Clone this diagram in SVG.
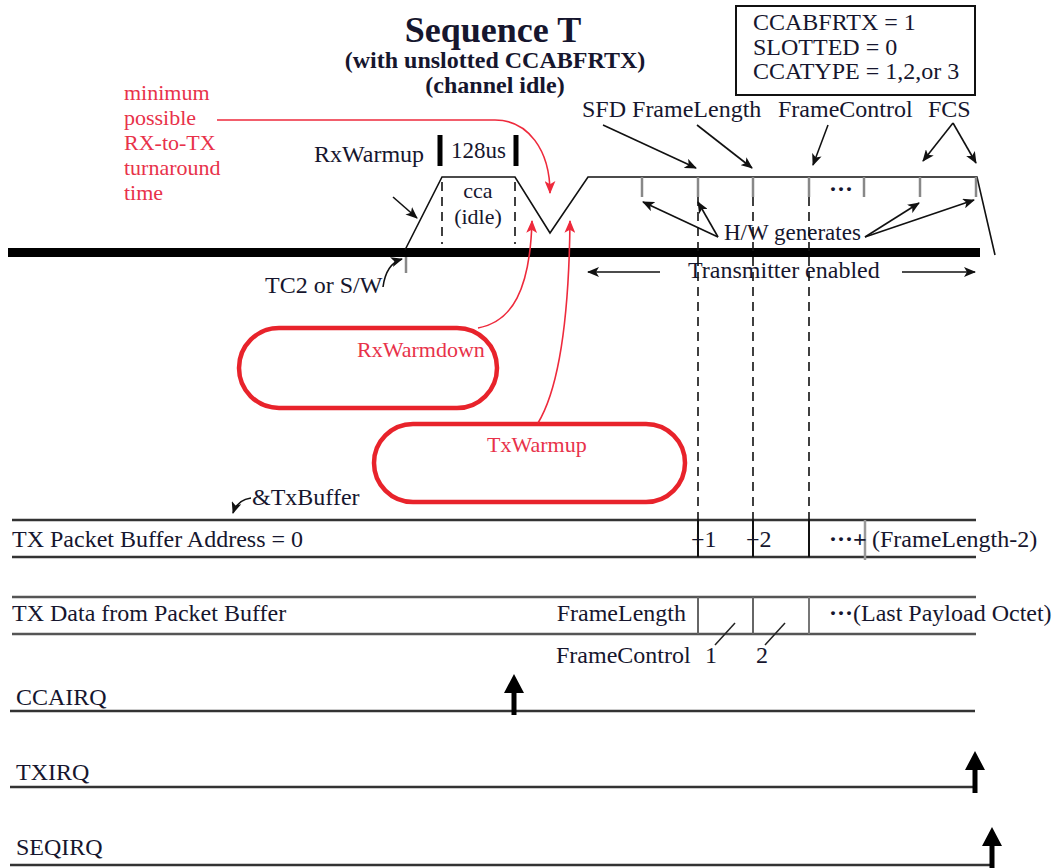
<svg xmlns="http://www.w3.org/2000/svg" width="1062" height="868" viewBox="0 0 1062 868">
<defs>
<style>
text{font-family:"Liberation Serif","Times New Roman",serif;fill:#16162e;font-size:24px}
.b{font-weight:bold}
.big{font-size:36px}
.s23{font-size:23px}
.s22{font-size:22px}
.r{fill:#e8324a;font-size:22px}
.ln{stroke:#111;stroke-width:1.6;fill:none}
.bus{stroke:#333;stroke-width:2.5;fill:none}
.gbus{stroke:#555;stroke-width:2.5;fill:none}
.dash{stroke:#111;stroke-width:1.6;stroke-dasharray:9 6;fill:none}
.tick{stroke:#888;stroke-width:2.5;fill:none}
.red{stroke:#ee2a3c;stroke-width:1.6;fill:none}
.oval{stroke:#e8232b;stroke-width:4.5;fill:none}
.fat{fill:#000}
</style>
<marker id="ah" viewBox="0 0 12 10" refX="11" refY="5" markerWidth="12" markerHeight="10" markerUnits="userSpaceOnUse" orient="auto">
<path d="M0,0 L12,5 L0,10 L3,5 Z" fill="#111"/>
</marker>
<marker id="rh" viewBox="0 0 12 10" refX="11" refY="5" markerWidth="13" markerHeight="11" markerUnits="userSpaceOnUse" orient="auto">
<path d="M0,0 L12,5 L0,10 L3,5 Z" fill="#ee2a3c"/>
</marker>
</defs>
<rect width="1062" height="868" fill="#fff"/>

<g id="title">
<text class="b big" x="493" y="42" text-anchor="middle">Sequence T</text>
<text class="b" x="495" y="68" text-anchor="middle">(with unslotted CCABFRTX)</text>
<text class="b" x="495" y="93" text-anchor="middle">(channel idle)</text>
</g>

<g id="config-box">
<rect x="736" y="6" width="239" height="89" fill="none" stroke="#111" stroke-width="2"/>
<text x="753" y="30">CCABFRTX = 1</text>
<text x="753" y="55">SLOTTED = 0</text>
<text x="753" y="79">CCATYPE = 1,2,or 3</text>
</g>

<g id="turnaround-note">
<text class="r" x="124" y="100">minimum</text>
<text class="r" x="124" y="125">possible</text>
<text class="r" x="124" y="150">RX-to-TX</text>
<text class="r" x="124" y="175">turnaround</text>
<text class="r" x="124" y="200">time</text>
</g>

<g id="rf-waveform">
<rect x="8" y="248" width="972" height="9" fill="#000"/>
<path class="ln" d="M405,250 L442,177 L515,177 L550,233 L588,177 L977,177 L995,255" stroke-width="2"/>
<line class="dash" x1="442" y1="182" x2="442" y2="244"/>
<line class="dash" x1="515" y1="182" x2="515" y2="244"/>
<line x1="440" y1="135" x2="440" y2="166" stroke="#000" stroke-width="5"/>
<line x1="516" y1="135" x2="516" y2="166" stroke="#000" stroke-width="5"/>
<text class="s23" x="451" y="158">128us</text>
<text class="s22" x="478" y="198" text-anchor="middle">cca</text>
<text class="s22" x="478" y="224" text-anchor="middle">(idle)</text>
<text x="314" y="162">RxWarmup</text>
<line x1="406" y1="257" x2="406" y2="273" class="tick"/>
<text x="265" y="293">TC2 or S/W</text>
<g class="tick">
<line x1="642" y1="177" x2="642" y2="197"/>
<line x1="698" y1="177" x2="698" y2="197"/>
<line x1="753" y1="177" x2="753" y2="197"/>
<line x1="809" y1="177" x2="809" y2="197"/>
<line x1="864" y1="177" x2="864" y2="197"/>
<line x1="920" y1="177" x2="920" y2="197"/>
<line x1="976" y1="177" x2="976" y2="197"/>
</g>
<text class="b" x="829" y="197">···</text>
<text x="582" y="117">SFD FrameLength</text>
<text x="778" y="117">FrameControl</text>
<text x="928" y="117">FCS</text>
<text class="s23" x="724" y="240">H/W generates</text>
<text x="688" y="278">Transmitter enabled</text>
</g>

<g id="rxwarmdown">
<rect class="oval" x="239" y="328" width="258" height="80" rx="40"/>
<text class="r" x="357" y="357">RxWarmdown</text>
</g>

<g id="txwarmup">
<rect class="oval" x="374" y="424" width="311" height="78" rx="39"/>
<text class="r" x="487" y="452">TxWarmup</text>
</g>

<g id="tx-buffer-address">
<text x="252" y="505">&amp;TxBuffer</text>
<line class="bus" x1="12" y1="520" x2="976" y2="520"/>
<line class="bus" x1="12" y1="557" x2="976" y2="557"/>
<text x="12" y="547">TX Packet Buffer Address = 0</text>
<line x1="698" y1="520" x2="698" y2="557" stroke="#111" stroke-width="2"/>
<line x1="753" y1="520" x2="753" y2="557" stroke="#111" stroke-width="2"/>
<line x1="809" y1="520" x2="809" y2="557" stroke="#111" stroke-width="2"/>
<line x1="865" y1="520" x2="865" y2="560" stroke="#999" stroke-width="2.5"/>
<text x="691" y="547">+1</text>
<text x="746" y="547">+2</text>
<text class="b" x="829" y="547">···+</text>
<text x="872" y="547">(FrameLength-2)</text>
</g>

<g id="tx-data">
<line class="gbus" x1="12" y1="597" x2="976" y2="597"/>
<line class="gbus" x1="12" y1="634" x2="976" y2="634"/>
<text x="12" y="621">TX Data from Packet Buffer</text>
<text x="686" y="621" text-anchor="end">FrameLength</text>
<line x1="698" y1="597" x2="698" y2="634" stroke="#666" stroke-width="2"/>
<line x1="753" y1="597" x2="753" y2="634" stroke="#666" stroke-width="2"/>
<line x1="809" y1="597" x2="809" y2="634" stroke="#777" stroke-width="2"/>
<text x="829" y="621"><tspan font-weight="bold">···</tspan>(Last Payload Octet)</text>
<text x="556" y="663">FrameControl</text>
<text x="705" y="663">1</text>
<text x="756" y="663">2</text>
<line x1="715" y1="645" x2="735" y2="623" stroke="#222" stroke-width="1.5"/>
<line x1="765" y1="645" x2="785" y2="623" stroke="#222" stroke-width="1.5"/>
</g>

<g id="ccairq">
<text x="16" y="705">CCAIRQ</text>
<line class="bus" x1="10" y1="711" x2="975" y2="711"/>
<path class="fat" d="M511.5,715 V693 H504 L514,674 L524,693 H516.5 V715 Z"/>
</g>

<g id="txirq">
<text x="16" y="780">TXIRQ</text>
<line class="bus" x1="10" y1="787" x2="975" y2="787"/>
<path class="fat" d="M972.5,793 V770 H965 L975,751 L985,770 H977.5 V793 Z"/>
</g>

<g id="seqirq">
<text x="16" y="855">SEQIRQ</text>
<line class="bus" x1="10" y1="865" x2="992" y2="865"/>
<path class="fat" d="M989.5,868 V846 H982 L992,827 L1002,846 H994.5 V868 Z"/>
</g>

<g id="connectors">
<path class="ln" d="M393,197 L417,218" marker-end="url(#ah)"/>
<path class="ln" d="M383,287 C385,272 392,262 402,259" marker-end="url(#ah)"/>
<path class="ln" d="M603,125 L696,168" marker-end="url(#ah)"/>
<path class="ln" d="M697,125 L752,168" marker-end="url(#ah)"/>
<path class="ln" d="M828,125 L813,165" marker-end="url(#ah)"/>
<path class="ln" d="M953,123 L923,161" marker-end="url(#ah)"/>
<path class="ln" d="M953,123 L976,163" marker-end="url(#ah)"/>
<path class="ln" d="M718,237 L643,202" marker-end="url(#ah)"/>
<path class="ln" d="M718,237 L698,202" marker-end="url(#ah)"/>
<path class="ln" d="M865,237 L919,203" marker-end="url(#ah)"/>
<path class="ln" d="M865,237 L974,200" marker-end="url(#ah)"/>
<path class="ln" d="M660,272 L588,272" marker-end="url(#ah)"/>
<path class="ln" d="M902,272 L975,272" marker-end="url(#ah)"/>
<path class="ln" d="M251,498 C243,499 236,504 233,513" marker-end="url(#ah)"/>
<path class="red" d="M217,120 H495 C528,120 550,150 550,193" marker-end="url(#rh)"/>
<path class="red" d="M478,328 C512,322 530,290 532,221" marker-end="url(#rh)"/>
<path class="red" d="M538,423 C558,390 569,320 570,221" marker-end="url(#rh)"/>
<line class="dash" x1="698" y1="197" x2="698" y2="520"/>
<line class="dash" x1="753" y1="197" x2="753" y2="520"/>
<line class="dash" x1="809" y1="197" x2="809" y2="520"/>
</g>
</svg>
